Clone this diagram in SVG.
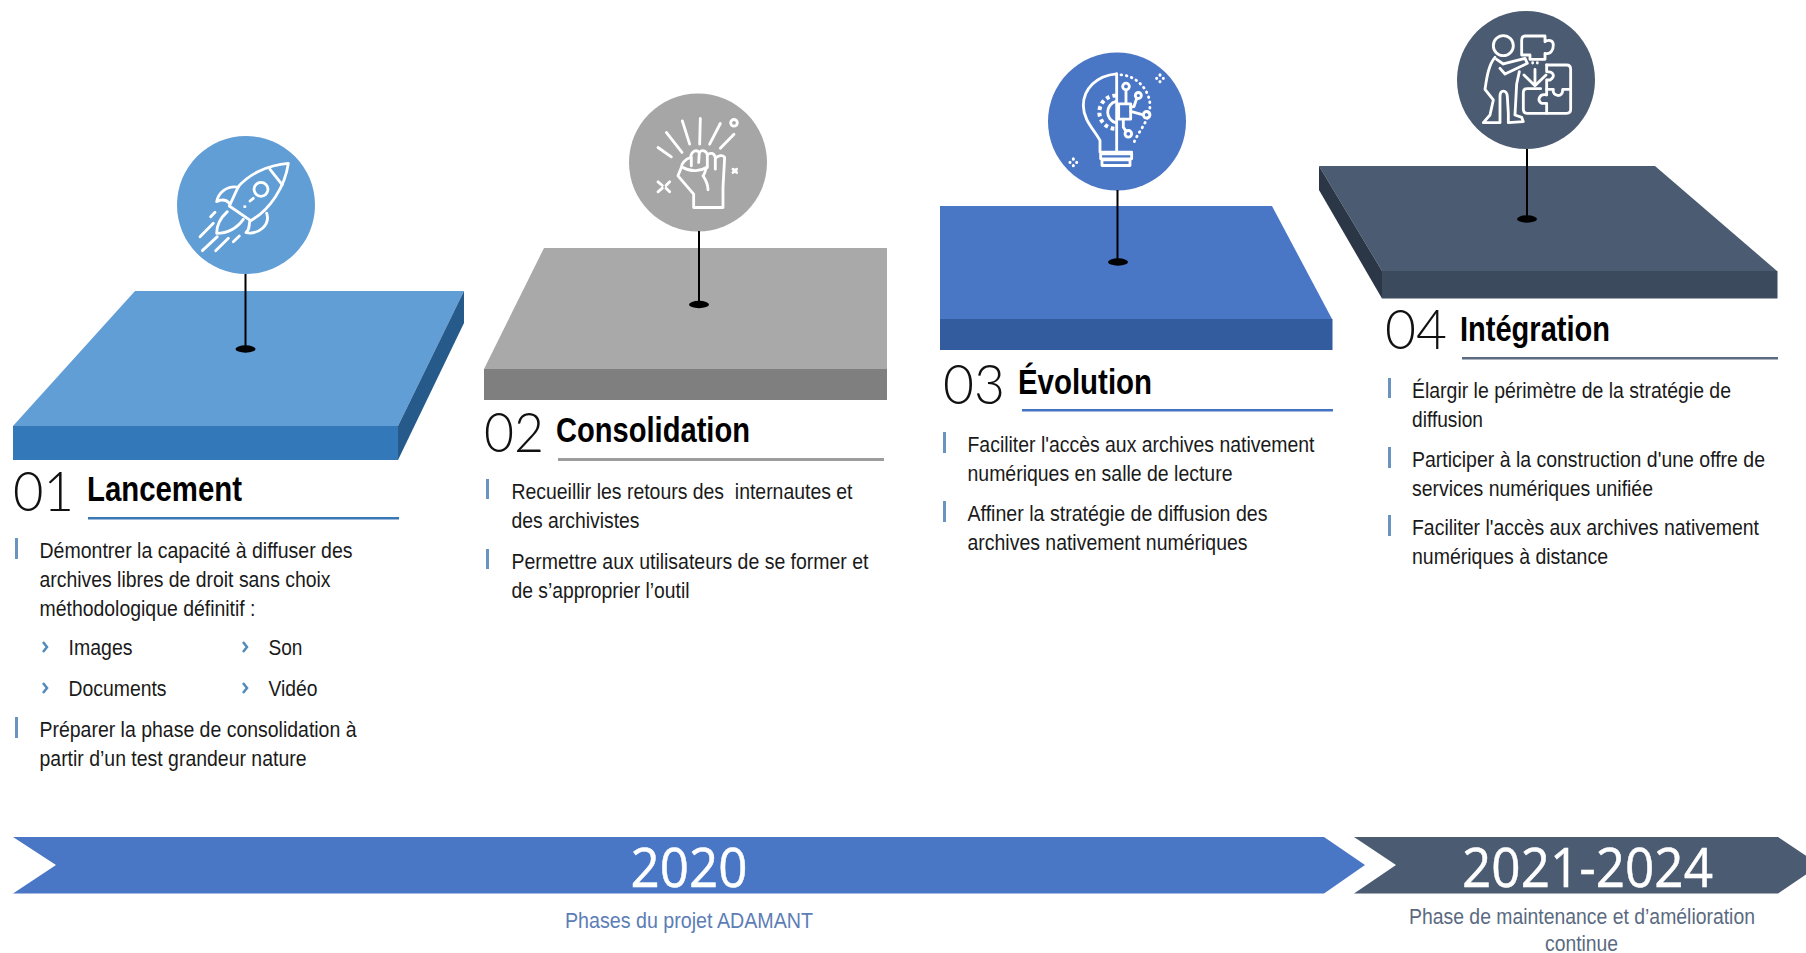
<svg xmlns="http://www.w3.org/2000/svg" width="1806" height="953" viewBox="0 0 1806 953">
<style>
text{font-family:"Liberation Sans",Arial,sans-serif}
.b{font-size:22.5px;fill:#1a1a1a}
.h{font-size:35px;font-weight:700;fill:#000}
.n{font-family:Lato,"Open Sans",sans-serif;font-size:56px;font-weight:300;fill:#111}
.y{font-family:"Open Sans","Noto Sans",sans-serif;font-size:55px;fill:#fff;stroke:#fff;stroke-width:.5}
.c{font-size:22.5px}
.i{fill:none;stroke:#fff;stroke-width:8.500;stroke-linecap:round;stroke-linejoin:round}
.bar{fill:#6a94c0}
.chev{fill:none;stroke:#4f8abb;stroke-width:2.500}
.pin{stroke:#000;stroke-width:2}
</style>
<rect width="1806" height="953" fill="#fff"/>
<g id="node1">
<polygon points="135,291 464,291 398,426 13,426" fill="#619ed6"/>
<rect x="13" y="426" width="385" height="34" fill="#3378b8"/>
<polygon points="464,291 464,323 398,460 398,426" fill="#255a8a"/>
<circle cx="246" cy="205" r="69" fill="#619ed6"/>
<g class="i" transform="translate(170,130) scale(.3333)">
<path d="M355,100C290,105 235,135 205,170L178,228L242,272C300,240 345,170 355,100Z"/><path d="M300,118L337,165"/><circle cx="273" cy="178" r="21"/><path d="M240,213L250,205M224,230L225,230"/>
<path d="M205,172C170,165 145,190 140,215C160,205 172,212 180,222"/><path d="M290,250C302,285 265,315 228,308C242,295 235,285 240,272"/>
<path d="M172,245C150,265 140,285 140,310C170,310 200,295 220,268"/>
<path d="M90,320L130,280M122,260L135,247M97,362L142,320M137,362L175,325M190,335L208,318"/>
</g>
<text class="n" x="13" y="511" textLength="61" lengthAdjust="spacingAndGlyphs">01</text>
<text class="h" x="87" y="501" textLength="155" lengthAdjust="spacingAndGlyphs">Lancement</text>
<rect x="88" y="517" width="311" height="2.500" fill="#3a78b5"/>
<rect class="bar" x="15" y="538" width="3" height="21"/>
<text class="b" x="39.500" y="558" textLength="313" lengthAdjust="spacingAndGlyphs">Démontrer la capacité à diffuser des</text>
<text class="b" x="39.500" y="587" textLength="291" lengthAdjust="spacingAndGlyphs">archives libres de droit sans choix</text>
<text class="b" x="39.500" y="616" textLength="216" lengthAdjust="spacingAndGlyphs">méthodologique définitif :</text>
<polyline class="chev" points="43,642 47,647 43,652"/>
<text class="b" x="68.500" y="655" textLength="64" lengthAdjust="spacingAndGlyphs">Images</text>
<polyline class="chev" points="243,642 247,647 243,652"/>
<text class="b" x="268.500" y="655" textLength="34" lengthAdjust="spacingAndGlyphs">Son</text>
<polyline class="chev" points="43,683 47,688 43,693"/>
<text class="b" x="68.500" y="696" textLength="98" lengthAdjust="spacingAndGlyphs">Documents</text>
<polyline class="chev" points="243,683 247,688 243,693"/>
<text class="b" x="268.500" y="696" textLength="49" lengthAdjust="spacingAndGlyphs">Vidéo</text>
<rect class="bar" x="15" y="717" width="3" height="21"/>
<text class="b" x="39.500" y="737" textLength="317" lengthAdjust="spacingAndGlyphs">Préparer la phase de consolidation à</text>
<text class="b" x="39.500" y="766" textLength="267" lengthAdjust="spacingAndGlyphs">partir d’un test grandeur nature</text>
</g>
<g id="node2">
<polygon points="544,248 887,248 887,369 484,369" fill="#a9a9a9"/>
<rect x="484" y="369" width="403" height="31" fill="#7f7f7f"/>
<circle cx="698" cy="162.500" r="69" fill="#a6a6a6"/>
<g class="i" transform="translate(628,92.500) scale(.3333)">
<path d="M90,165L130,193M115,120L162,180M163,85L185,155M217,78L215,155M277,93L245,155M318,125L277,167"/><circle cx="318" cy="91" r="10"/>
<path d="M315,230L326,240M326,230L315,240" /><path d="M90,268L103,279M125,268L114,279M90,298L103,287M125,298L114,287"/>
<path d="M197,305L197,345L285,345L285,285L290,195C285,185 270,190 262,197C260,180 245,180 238,187C235,172 220,172 214,180C205,170 190,175 188,195C170,200 160,215 160,225L150,250L197,305"/>
<path d="M190,195L190,220M214,180L212,210M238,187L238,225M262,197L262,230"/>
<path d="M165,225C190,240 220,235 235,225C230,245 225,250 225,250C235,265 240,275 240,292"/>
</g>
<text class="n" x="484" y="452" textLength="60" lengthAdjust="spacingAndGlyphs">02</text>
<text class="h" x="556" y="442" textLength="194" lengthAdjust="spacingAndGlyphs">Consolidation</text>
<rect x="558" y="458" width="326" height="3" fill="#9c9c9c"/>
<rect class="bar" x="486" y="479" width="3" height="20"/>
<text class="b" x="511.500" y="499" textLength="341" lengthAdjust="spacingAndGlyphs" xml:space="preserve">Recueillir les retours des  internautes et</text>
<text class="b" x="511.500" y="528" textLength="128" lengthAdjust="spacingAndGlyphs">des archivistes</text>
<rect class="bar" x="486" y="549" width="3" height="20"/>
<text class="b" x="511.500" y="569" textLength="357" lengthAdjust="spacingAndGlyphs">Permettre aux utilisateurs de se former et</text>
<text class="b" x="511.500" y="597.500" textLength="178" lengthAdjust="spacingAndGlyphs">de s’approprier l’outil</text>
</g>
<g id="node3">
<polygon points="940,206 1272,206 1332,319 940,319" fill="#4a76c6"/>
<rect x="940" y="319" width="392.500" height="31" fill="#335c9e"/>
<circle cx="1117" cy="121.500" r="69" fill="#4a76c6"/>
<g class="i" transform="translate(1040,40.500) scale(.3333)">
<path d="M230,100C170,105 130,145 130,195C130,240 165,270 180,300L180,335L275,335"/><path d="M230,100L230,335"/>
<path d="M182,340L275,340L275,355L182,355ZM186,358L270,358L270,375L186,375Z"/>
<path d="M228,165A50,50 0 0 0 228,265" stroke-width="12" stroke-dasharray="11 9" stroke-linecap="butt"/><path d="M228,183A33,33 0 0 0 228,247"/>
<rect x="236" y="190" width="36" height="46"/>
<circle cx="258" cy="138" r="10"/><path d="M258,148L258,190"/>
<circle cx="295" cy="165" r="9"/><path d="M290,174L282,198L272,200"/>
<circle cx="320" cy="223" r="10"/><path d="M272,213L310,223"/>
<circle cx="265" cy="280" r="10"/><path d="M250,236L250,260L258,272"/>
<path d="M243,103C290,105 330,150 330,195C330,240 295,270 278,315" stroke-dasharray="2 14"/>
<path d="M360,103L360,104M350,113L350,114M370,113L370,114M360,123L360,124M100,355L100,356M90,365L90,366M110,365L110,366M100,375L100,376" stroke-width="9"/>
</g>
<text class="n" x="943" y="404" textLength="62" lengthAdjust="spacingAndGlyphs">03</text>
<text class="h" x="1018" y="393.500" textLength="134" lengthAdjust="spacingAndGlyphs">Évolution</text>
<rect x="1022" y="409" width="311" height="2.500" fill="#4472c4"/>
<rect class="bar" x="943" y="432" width="3" height="21"/>
<text class="b" x="967.500" y="451.500" textLength="347" lengthAdjust="spacingAndGlyphs">Faciliter l'accès aux archives nativement</text>
<text class="b" x="967.500" y="480.500" textLength="265" lengthAdjust="spacingAndGlyphs">numériques en salle de lecture</text>
<rect class="bar" x="943" y="501" width="3" height="21"/>
<text class="b" x="967.500" y="520.500" textLength="300" lengthAdjust="spacingAndGlyphs">Affiner la stratégie de diffusion des</text>
<text class="b" x="967.500" y="549.500" textLength="280" lengthAdjust="spacingAndGlyphs">archives nativement numériques</text>
</g>
<g id="node4">
<polygon points="1319,166 1655,166 1777,271 1382,271" fill="#4b5b72"/>
<rect x="1382" y="271" width="395.500" height="27.500" fill="#3c4a5e"/>
<polygon points="1319,166 1319,190 1382,298.500 1382,271" fill="#2b3646"/>
<circle cx="1526" cy="80" r="69" fill="#4b5b72"/>
<g class="i" transform="translate(1450,0) scale(.3333)">
<circle cx="160" cy="137" r="30"/>
<path d="M215,122L215,165L240,165L240,178L285,178L285,160C305,165 310,145 310,135C310,120 295,118 285,125L285,108L225,108C218,108 215,115 215,122Z"/>
<path d="M135,172C115,195 110,235 105,268L130,300L120,345L100,368L150,368L150,290C150,268 170,268 172,290L175,340L175,368L220,365L215,352L195,345L200,252L208,215"/>
<path d="M140,178L160,192L225,175L232,190L165,222L150,205"/>
<path d="M290,195L350,195C358,195 362,200 362,208L362,328C362,336 358,340 350,340L232,340C224,340 220,336 220,328L220,278C220,270 224,266 232,266L272,266"/>
<path d="M290,195L290,215C310,215 318,228 300,240L290,240L290,268L310,268C305,290 340,295 338,268L362,268"/>
<path d="M290,268L290,285C268,280 260,300 275,310L290,310L290,340"/>
<path d="M255,208L255,252M222,225L255,257L288,225"/><path d="M248,188L248,189M262,188L262,189"/>
</g>
<text class="n" x="1385" y="349" textLength="62" lengthAdjust="spacingAndGlyphs">04</text>
<text class="h" x="1460" y="341" textLength="150" lengthAdjust="spacingAndGlyphs">Intégration</text>
<rect x="1462" y="357" width="316" height="2.500" fill="#5a6a80"/>
<rect class="bar" x="1388" y="378" width="3" height="20"/>
<text class="b" x="1412" y="398" textLength="319" lengthAdjust="spacingAndGlyphs">Élargir le périmètre de la stratégie de</text>
<text class="b" x="1412" y="426.500" textLength="71" lengthAdjust="spacingAndGlyphs">diffusion</text>
<rect class="bar" x="1388" y="447" width="3" height="21"/>
<text class="b" x="1412" y="467" textLength="353" lengthAdjust="spacingAndGlyphs">Participer à la construction d'une offre de</text>
<text class="b" x="1412" y="496" textLength="241" lengthAdjust="spacingAndGlyphs">services numériques unifiée</text>
<rect class="bar" x="1388" y="515" width="3" height="21"/>
<text class="b" x="1412" y="535" textLength="347" lengthAdjust="spacingAndGlyphs">Faciliter l'accès aux archives nativement</text>
<text class="b" x="1412" y="563.500" textLength="196" lengthAdjust="spacingAndGlyphs">numériques à distance</text>
</g>
<g id="connectors">
<path class="pin" d="M245.500,274V349M699,231V304M1117.500,190V261.500M1527,149V219"/>
<ellipse cx="245.500" cy="349" rx="10" ry="3.700"/>
<ellipse cx="699" cy="304.500" rx="10" ry="3.700"/>
<ellipse cx="1118" cy="262" rx="10" ry="3.700"/>
<ellipse cx="1527" cy="219" rx="10" ry="3.700"/>
</g>
<g id="timeline2020">
<polygon points="13,837 1324,837 1365,865 1324,893.500 13,893.500 56,865" fill="#4a76c6"/>
<text class="y" x="630.500" y="887" textLength="117" lengthAdjust="spacingAndGlyphs">2020</text>
<text class="c" x="565" y="928" fill="#5c7db5" textLength="248" lengthAdjust="spacingAndGlyphs">Phases du projet ADAMANT</text>
</g>
<g id="timeline2021">
<polygon points="1354,837 1778,837 1820,865 1778,893.500 1354,893.500 1396,865" fill="#4b5b72"/>
<text class="y" x="1462" y="887" textLength="251" lengthAdjust="spacingAndGlyphs">2021-2024</text>
<text class="c" x="1409" y="924" fill="#5a6a80" textLength="346" lengthAdjust="spacingAndGlyphs">Phase de maintenance et d’amélioration</text>
<text class="c" x="1545" y="951" fill="#5a6a80" textLength="73" lengthAdjust="spacingAndGlyphs">continue</text>
</g>
</svg>
